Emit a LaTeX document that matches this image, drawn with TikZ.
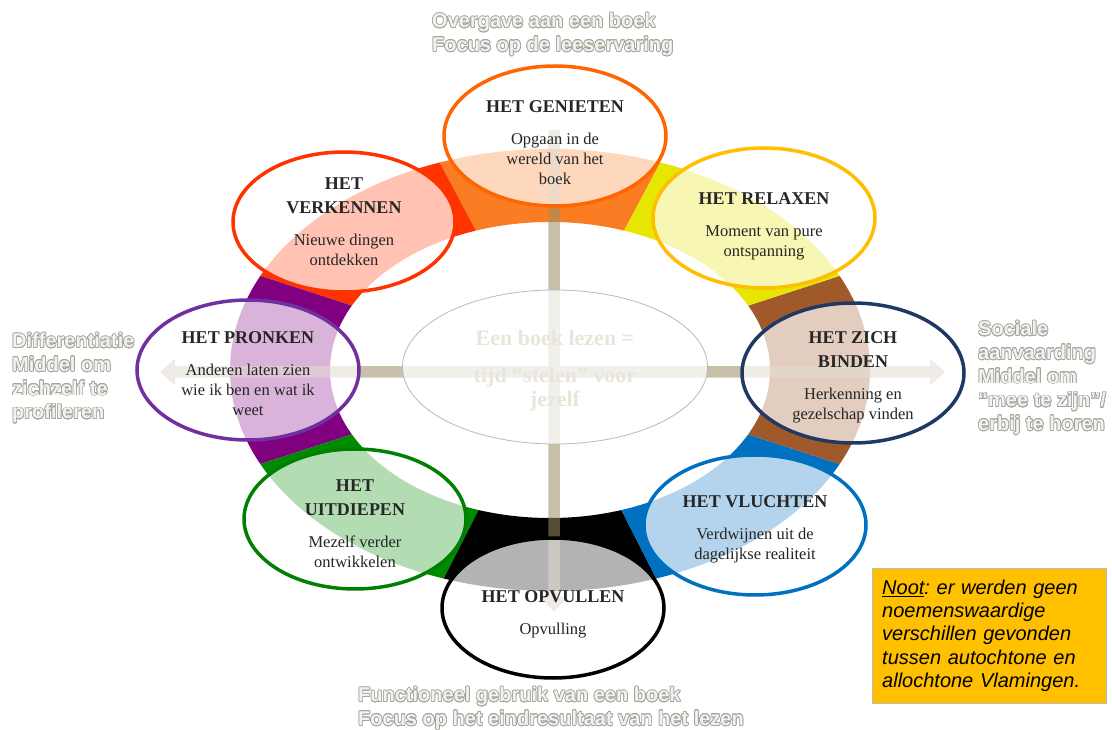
\documentclass[tikz,border=0pt]{standalone}
\usepackage{fontspec}
\setmainfont{Liberation Serif}
\setsansfont{Liberation Sans}
\usepackage{contour}
\usepackage{tikz}
\usetikzlibrary{arrows.meta,shapes.geometric}

\definecolor{ringorange}{RGB}{250,125,35}
\definecolor{ringred}{RGB}{255,51,0}
\definecolor{ringpurple}{RGB}{128,0,128}
\definecolor{ringgreen}{RGB}{0,138,0}
\definecolor{ringblack}{RGB}{0,0,0}
\definecolor{ringblue}{RGB}{0,112,192}
\definecolor{ringbrown}{RGB}{160,89,42}
\definecolor{ringyellow}{RGB}{230,230,0}
\definecolor{rimorange}{RGB}{255,102,0}
\definecolor{rimgold}{RGB}{255,190,0}
\definecolor{rimnavy}{RGB}{31,56,100}
\definecolor{rimblue}{RGB}{0,112,192}
\definecolor{rimgreen}{RGB}{0,128,0}
\definecolor{rimpurple}{RGB}{112,48,160}
\definecolor{rimred}{RGB}{255,51,0}
\definecolor{crosskhaki}{RGB}{155,142,100}
\definecolor{lblfill}{RGB}{242,242,238}
\definecolor{lbledge}{RGB}{165,165,158}
\definecolor{coretext}{RGB}{232,229,218}
\definecolor{notebg}{RGB}{255,192,0}

\contourlength{0.7pt}
\newcommand{\outl}[1]{\contour{lbledge}{#1}}
\newcommand{\titlef}{\fontsize{18}{22}\selectfont\bfseries}
\newcommand{\bodyf}{\fontsize{16.5}{20}\selectfont}

\begin{document}
\begin{tikzpicture}[x=1pt,y=1pt,
    motive/.style={ellipse,draw=#1,line width=3.5pt,fill=white,fill opacity=0.7,minimum width=222pt,minimum height=140pt},
    motivetext/.style={align=center,font=\bodyf,text=black!85,inner sep=0pt,yshift=-#1},
    motivetext/.default=5pt,
    sidelabel/.style={anchor=north west,align=left,inner sep=0pt,text=lblfill,font=\sffamily\bfseries\fontsize{20}{23.7}\selectfont},
    crossbar/.style={line width=11.5pt,crosskhaki}]

    \tikzstyle{every node}=[inner sep=0pt]

    \useasboundingbox (0,0) rectangle (1112,729);
    \fill[white] (0,0) rectangle (1112,729);

    \coordinate (ring) at (550,359);
    \coordinate (crossL) at (160,357);
    \coordinate (crossR) at (945,357);
    \coordinate (crossT) at (554,599);
    \coordinate (crossB) at (554,117);

    % coloured ring
    \foreach \from/\to/\col in {62/118/ringorange,118/162/ringred,162/198/ringpurple,198/243/ringgreen,
                                243/297/ringblack,297/342/ringblue,342/378/ringbrown,18/62/ringyellow}{
      \begin{scope}[shift={(ring)}]
        \clip (0,0) -- (\from:600pt) -- ({(\from+\to)/2}:600pt) -- (\to:600pt) -- cycle;
        \fill[\col,even odd rule] (0,0) ellipse [x radius=320pt,y radius=221pt]
                                  (0,0) ellipse [x radius=220pt,y radius=148pt];
      \end{scope}
    }

    % cross
    \begin{scope}[transparency group,opacity=0.55]
      \draw[crossbar,{Triangle[length=15pt,width=26pt]}-{Triangle[length=15pt,width=26pt]}] (crossL) -- (crossR);
      \draw[crossbar,-{Triangle[length=15pt,width=26pt]}] (crossT) -- (crossB);
    \end{scope}

    \node[ellipse,draw=gray!55,line width=0.8pt,fill=white,fill opacity=0.75,minimum width=305pt,minimum height=154pt] (core) at (555,362) {};
    \node[align=center,text=coretext,font=\bfseries\fontsize{22}{24}\selectfont,yshift=-4pt] (core-txt) at (core) {Een boek lezen =\\[13pt]tijd “stelen” voor\\jezelf};

    \node[motive=rimorange] (genieten) at (555,593) {};
    \node[motivetext=7pt] (genieten-txt) at (genieten) {{\titlef HET GENIETEN}\\[12pt]Opgaan in de\\wereld van het\\boek};
    \node[motive=rimgold] (relaxen) at (764,511) {};
    \node[motivetext=8pt] (relaxen-txt) at (relaxen) {{\titlef HET RELAXEN}\\[12pt]Moment van pure\\ontspanning};
    \node[motive=rimnavy] (binden) at (853,356) {};
    \node[motivetext=4pt] (binden-txt) at (binden) {{\titlef HET ZICH}\\[4pt]{\titlef BINDEN}\\[12pt]Herkenning en\\gezelschap vinden};
    \node[motive=rimblue] (vluchten) at (755,204) {};
    \node[motivetext=4pt] (vluchten-txt) at (vluchten) {{\titlef HET VLUCHTEN}\\[12pt]Verdwijnen uit de\\dagelijkse realiteit};
    \node[motive=rimgreen] (uitdiepen) at (355,210) {};
    \node[motivetext] (uitdiepen-txt) at (uitdiepen) {{\titlef HET}\\[4pt]{\titlef UITDIEPEN}\\[12pt]Mezelf verder\\ontwikkelen};
    \node[motive=black] (opvullen) at (553,121) {};
    \node[motivetext=6pt] (opvullen-txt) at (opvullen) {{\titlef HET OPVULLEN}\\[12pt]Opvulling};
    \node[motive=rimpurple] (pronken) at (248,359) {};
    \node[motivetext=4pt] (pronken-txt) at (pronken) {{\titlef HET PRONKEN}\\[12pt]Anderen laten zien\\wie ik ben en wat ik\\weet};
    \node[motive=rimred] (verkennen) at (344,507) {};
    \node[motivetext=0pt] (verkennen-txt) at (verkennen) {{\titlef HET}\\[4pt]{\titlef VERKENNEN}\\[12pt]Nieuwe dingen\\ontdekken};

    % grey side labels
    \node[sidelabel] (boven) at (432,716) {\outl{Overgave aan een boek}\\\outl{Focus op de leeservaring}};
    \node[sidelabel] (onder) at (358,42) {\outl{Functioneel gebruik van een boek}\\\outl{Focus op het eindresultaat van het lezen}};
    \node[sidelabel] (links) at (12,396) {\outl{Differentiatie}\\\outl{Middel om}\\\outl{zichzelf te}\\\outl{profileren}};
    \node[sidelabel] (rechts) at (978,408) {\outl{Sociale}\\\outl{aanvaarding}\\\outl{Middel om}\\\outl{“mee te zijn”/}\\\outl{erbij te horen}};

    \node[anchor=north west,draw=gray!55,fill=notebg,minimum width=234pt,minimum height=135pt,text width=214pt,
          inner xsep=10pt,align=left,font=\sffamily\itshape\fontsize{20}{23.3}\selectfont\frenchspacing] (noot) at (872,161)
      {\underline{Noot}: er werden geen\\noemenswaardige\\verschillen gevonden\\tussen autochtone en\\allochtone Vlamingen.};
\end{tikzpicture}
\end{document}
